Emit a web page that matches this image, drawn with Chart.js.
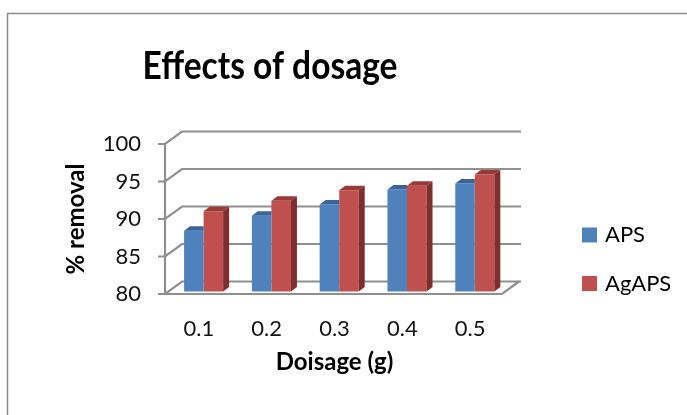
<!DOCTYPE html>
<html><head><meta charset="utf-8">
<script src="https://cdn.jsdelivr.net/npm/chart.js@4"></script>
<style>html,body{margin:0;padding:0;background:#fff}#wrap{width:687px;height:415px}</style>
</head><body><div id="wrap"><canvas id="c" width="687" height="415"></canvas></div>
<script>
const categories = ['0.1', '0.2', '0.3', '0.4', '0.5'];
const apsValues = [88.1, 90.1, 91.6, 93.6, 94.4];
const agapsValues = [90.7, 92.1, 93.5, 94.1, 95.6];
const seriesNames = ['APS', 'AgAPS'];
const yMin = 80, yMax = 100, yStep = 5;
const titleText = 'Effects of dosage';
const xTitle = 'Doisage (g)';
const yTitle = '% removal';

const FONT = 'Lato, "Open Sans", sans-serif';
const colors = {
  front: ['#4F81BD', '#C0504D'],
  top: ['#3A659A', '#9A3A37'],
  side: ['#2E5686', '#7E2E2C']
};
const WALL = {dx: 17, dy: -12.5};
const BARSHIFT = {dx: 4.7, dy: -2.5};
const DEPTH = {dx: 6, dy: -4.5};

const threeD = {
  id: 'threeD',
  beforeDraw(chart) {
    const ctx = chart.ctx;
    ctx.save();
    ctx.strokeStyle = '#8a8a8a';
    ctx.lineWidth = 1.5;
    ctx.strokeRect(7.5, 13.5, 700, 420);
    ctx.restore();
  },
  beforeDatasetsDraw(chart) {
    const ctx = chart.ctx, a = chart.chartArea, ys = chart.scales.y;
    ctx.save();
    ctx.strokeStyle = '#8f8f8f';
    ctx.lineWidth = 2.2;
    const L = a.left, R = a.right;
    for (let v = yMin; v <= yMax; v += yStep) {
      const py = ys.getPixelForValue(v);
      ctx.beginPath();
      ctx.moveTo(L - 7, py); ctx.lineTo(L, py);
      ctx.lineTo(L + WALL.dx, py + WALL.dy);
      ctx.lineTo(R + WALL.dx, py + WALL.dy);
      ctx.stroke();
    }
    const pb = ys.getPixelForValue(yMin), pt = ys.getPixelForValue(yMax);
    ctx.beginPath();
    ctx.moveTo(L, pt); ctx.lineTo(L, pb);
    ctx.lineTo(R - 2, pb);
    ctx.lineTo(R - 2 + WALL.dx, pb + WALL.dy);
    ctx.stroke();
    ctx.restore();
  },
  beforeDatasetDraw(chart) {
    chart.ctx.save();
    chart.ctx.translate(BARSHIFT.dx, BARSHIFT.dy);
  },
  afterDatasetDraw(chart, args) {
    const ctx = chart.ctx, i = args.index;
    const bottom = chart.chartArea.bottom;
    args.meta.data.forEach(bar => {
      const p = bar.getProps(['x', 'y', 'base', 'width'], true);
      const base = Math.min(p.base, bottom);
      const x0 = p.x - p.width / 2, x1 = p.x + p.width / 2;
      const xr = i === 0 ? x1 : x1 + DEPTH.dx;
      ctx.fillStyle = colors.top[i];
      ctx.beginPath();
      ctx.moveTo(x0, p.y); ctx.lineTo(x0 + DEPTH.dx, p.y + DEPTH.dy);
      ctx.lineTo(xr, p.y + DEPTH.dy); ctx.lineTo(x1, p.y);
      ctx.closePath(); ctx.fill();
      if (i !== 0) {
        ctx.fillStyle = colors.side[i];
        ctx.beginPath();
        ctx.moveTo(x1, p.y); ctx.lineTo(x1 + DEPTH.dx, p.y + DEPTH.dy);
        ctx.lineTo(x1 + DEPTH.dx, base + DEPTH.dy); ctx.lineTo(x1, base);
        ctx.closePath(); ctx.fill();
      }
    });
    ctx.restore();
  },
  afterDraw(chart) {
    const ctx = chart.ctx;
    ctx.save();
    ctx.fillStyle = '#000';
    ctx.font = 'bold 39px ' + FONT;
    ctx.textAlign = 'center';
    ctx.textBaseline = 'alphabetic';
    ctx.save();
    ctx.translate(270, 79);
    ctx.scale(0.86, 1);
    ctx.fillText(titleText, 0, 0);
    ctx.restore();
    ctx.font = '22px ' + FONT;
    ctx.textAlign = 'left';
    ctx.textBaseline = 'middle';
    const ly = [235, 283.5];
    chart.data.datasets.forEach((ds, i) => {
      ctx.fillStyle = colors.front[i];
      ctx.fillRect(582, ly[i] - 7.5, 15, 15);
      ctx.fillStyle = '#000';
      ctx.fillText(ds.label, 605, ly[i]);
    });
    ctx.restore();
  }
};

new Chart(document.getElementById('c'), {
  type: 'bar',
  data: {
    labels: categories,
    datasets: [
      {label: seriesNames[0], data: apsValues, backgroundColor: colors.front[0]},
      {label: seriesNames[1], data: agapsValues, backgroundColor: colors.front[1]}
    ]
  },
  options: {
    responsive: false,
    animation: false,
    devicePixelRatio: 1,
    layout: {padding: {top: 144, right: 183, left: 0, bottom: 0}},
    datasets: {bar: {categoryPercentage: 0.576, barPercentage: 1.0}},
    plugins: {legend: {display: false}, title: {display: false}, tooltip: {enabled: false}},
    scales: {
      x: {
        grid: {display: false, drawTicks: false},
        border: {display: false},
        ticks: {font: {family: FONT, size: 22}, color: '#111', padding: 22},
        title: {display: true, text: xTitle, font: {family: FONT, size: 24, weight: 'bold'}, color: '#000', padding: {top: 0, bottom: 38}},
        afterFit(s) { s.height = 121; }
      },
      y: {
        min: yMin, max: yMax,
        grid: {display: false, drawTicks: false},
        border: {display: false},
        ticks: {stepSize: yStep, font: {family: FONT, size: 22}, color: '#111', padding: 24},
        title: {display: true, text: yTitle, font: {family: FONT, size: 24, weight: 'bold'}, color: '#000', padding: {top: 62, bottom: 0}},
        afterFit(s) { s.width = 165; }
      }
    }
  },
  plugins: [threeD]
});
</script>
</body></html>
